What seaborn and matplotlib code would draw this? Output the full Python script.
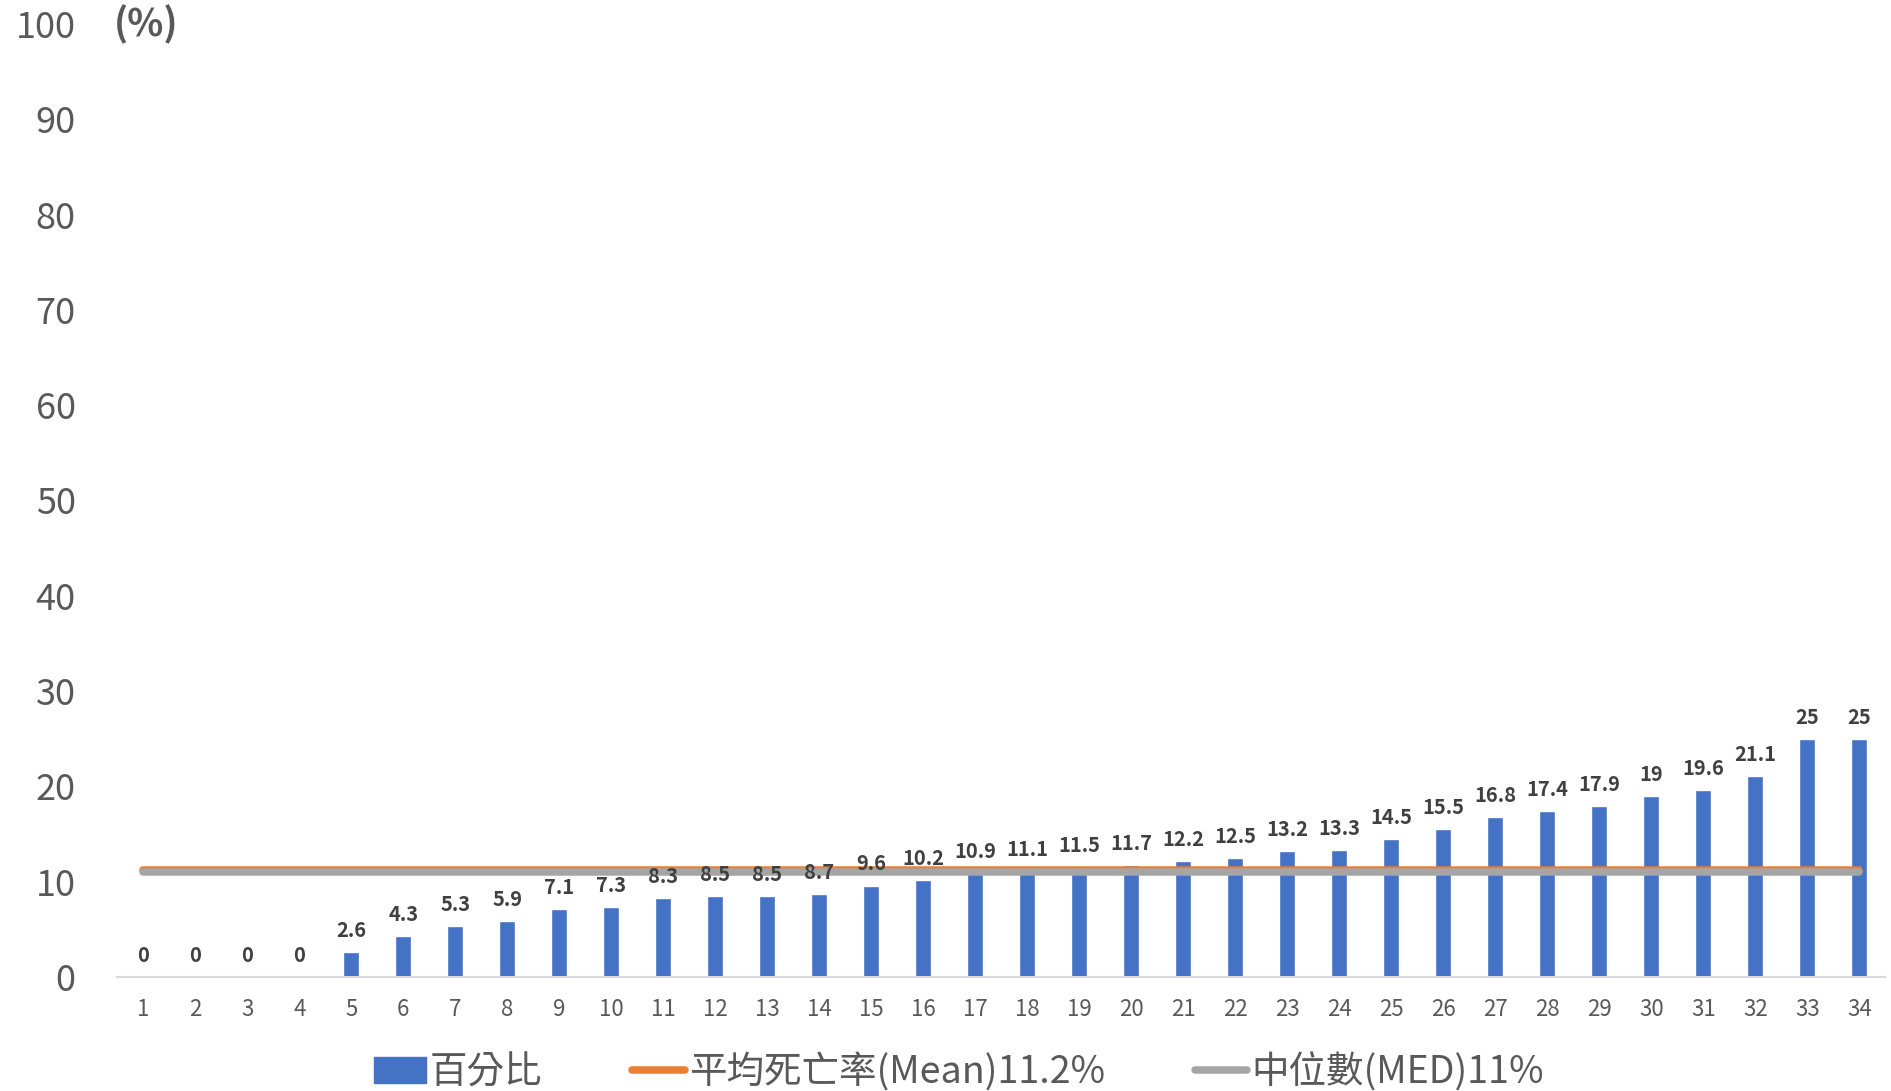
import numpy as np
import pandas as pd
import matplotlib
matplotlib.use("Agg")
import matplotlib.pyplot as plt
import seaborn as sns
from matplotlib.patches import Patch
from matplotlib.lines import Line2D

# data
ranks = [str(i) for i in range(1, 35)]
percent = [0, 0, 0, 0, 2.6, 4.3, 5.3, 5.9, 7.1, 7.3, 8.3, 8.5, 8.5, 8.7, 9.6, 10.2,
           10.9, 11.1, 11.5, 11.7, 12.2, 12.5, 13.2, 13.3, 14.5, 15.5, 16.8, 17.4,
           17.9, 19, 19.6, 21.1, 25, 25]
mean_rate = 11.2
median_rate = 11
legend_labels = ["百分比", "平均死亡率(Mean)11.2%", "中位數(MED)11%"]
y_ticks = list(range(0, 101, 10))

sns.set_style("white")
plt.rcParams['font.family'] = ['Noto Sans CJK TC', 'DejaVu Sans']

blue = "#4472C4"
orange = "#ED7D31"
gray = "#A5A5A5"
txt = "#595959"

df = pd.DataFrame({"rank": ranks, "pct": percent})

fig = plt.figure(figsize=(18.91, 10.91), dpi=100)
ax = fig.add_axes([0.062, 0.1045, 0.935, 0.8735])

sns.barplot(data=df, x="rank", y="pct", color=blue, width=0.31, saturation=1, ax=ax, zorder=2)

xs = np.arange(len(ranks))
ax.plot(xs, np.full(len(ranks), mean_rate), color=orange, lw=5.4,
        solid_capstyle="round", zorder=3)
ax.plot(xs, np.full(len(ranks), median_rate), color=gray, lw=5.4,
        solid_capstyle="round", zorder=4)

# data labels
for x, v in zip(xs, percent):
    lab = f"{v:g}"
    ax.annotate(lab, (x, v), xytext=(0, 8), textcoords="offset points",
                ha="center", va="bottom", fontsize=14.5, fontweight="bold",
                color="#404040", zorder=5)

ax.set_xlim(-0.5, len(ranks) - 0.5)
ax.set_ylim(0, 100)
ax.set_yticks(y_ticks)
ax.tick_params(axis="y", length=0, pad=30, labelsize=26, labelcolor=txt)
ax.tick_params(axis="x", length=0, pad=15, labelsize=16, labelcolor=txt)
ax.set_xlabel("")
ax.set_ylabel("")
for s in ["top", "right", "left"]:
    ax.spines[s].set_visible(False)
ax.spines["bottom"].set_color("#D9D9D9")
ax.spines["bottom"].set_linewidth(1.5)

ax.text(-0.002, 1.0, "(%)", transform=ax.transAxes, fontsize=27, fontweight="bold",
        color=txt, ha="left", va="center")

handles = [Patch(facecolor=blue, edgecolor=blue),
           Line2D([0], [0], color=orange, lw=5.4),
           Line2D([0], [0], color=gray, lw=5.4)]
fig.legend(handles, legend_labels, loc="lower center", bbox_to_anchor=(0.507, -0.032),
           ncol=3, frameon=False, fontsize=27, labelcolor=txt, handlelength=1.4,
           handletextpad=0.1, columnspacing=2.4)

fig.savefig("out.png", dpi=100)
